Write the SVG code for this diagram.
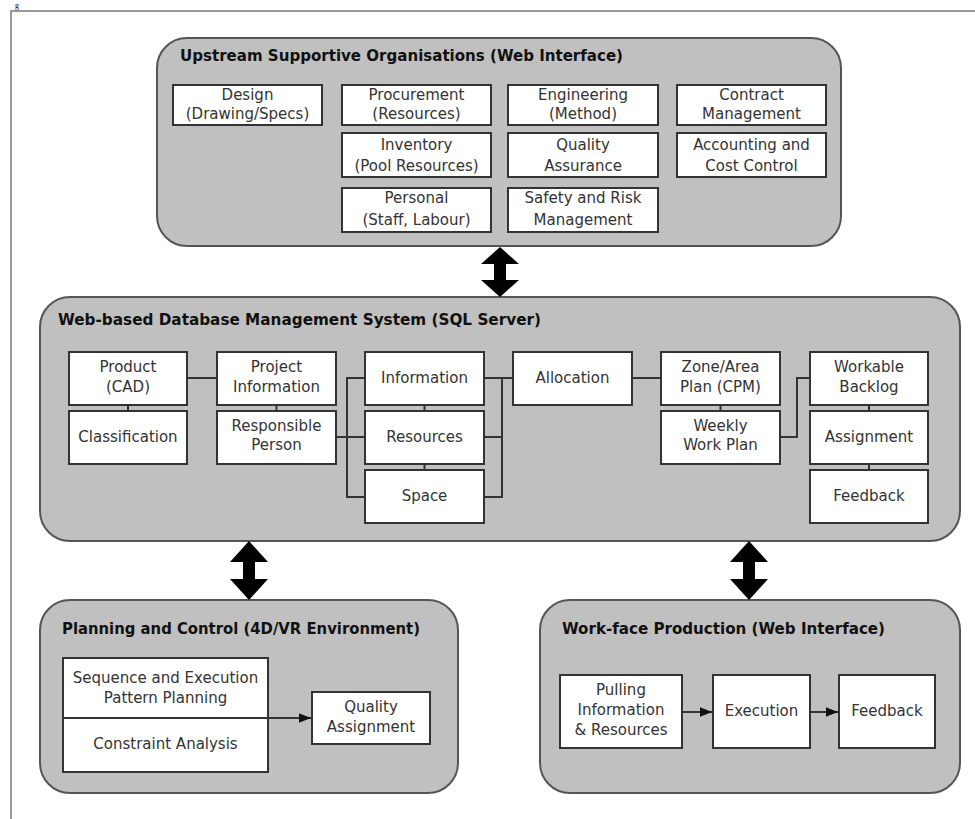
<svg xmlns="http://www.w3.org/2000/svg" width="975" height="819" viewBox="0 0 975 819">
<defs>
<style>
.frame{stroke:#999;stroke-width:2;fill:none}
.outer{fill:#c0c0c0;stroke:#555;stroke-width:2}
.box{fill:#fff;stroke:#333;stroke-width:2}
.ttl{font-family:"DejaVu Sans","Liberation Sans",sans-serif;font-weight:bold;font-size:15px;fill:#111}
.t{font-family:"DejaVu Sans","Liberation Sans",sans-serif;font-size:15px;fill:#333;text-anchor:middle}
.ln{stroke:#333;stroke-width:2;fill:none}
.big{fill:#000}
</style>
<marker id="ah" viewBox="0 0 10 10" refX="10" refY="5" markerWidth="6" markerHeight="6" orient="auto" markerUnits="strokeWidth">
<path d="M0,1 L10,5 L0,9 z" fill="#111"/>
</marker>
</defs>
<rect width="975" height="819" fill="#fff"/>
<text x="15" y="8" font-family="Liberation Serif, serif" font-size="8" fill="#000">g</text>
<path class="frame" d="M11,819 V11 H975"/>

<g id="upstream">
<rect class="outer" x="157" y="38" width="684" height="208" rx="30"/>
<text class="ttl" x="180" y="61" textLength="443" lengthAdjust="spacingAndGlyphs">Upstream Supportive Organisations (Web Interface)</text>
</g>
<g id="design"><rect class="box" x="173" y="85" width="149" height="40"/><text class="t" x="247.5" y="100">Design</text><text class="t" x="247.5" y="119">(Drawing/Specs)</text></g>
<g id="procurement"><rect class="box" x="342" y="85" width="149" height="40"/><text class="t" x="416.5" y="100">Procurement</text><text class="t" x="416.5" y="119">(Resources)</text></g>
<g id="engineering"><rect class="box" x="508" y="85" width="150" height="40"/><text class="t" x="583" y="100">Engineering</text><text class="t" x="583" y="119">(Method)</text></g>
<g id="contract"><rect class="box" x="677" y="85" width="149" height="40"/><text class="t" x="751.5" y="100">Contract</text><text class="t" x="751.5" y="119">Management</text></g>
<g id="inventory"><rect class="box" x="342" y="133" width="149" height="44"/><text class="t" x="416.5" y="150">Inventory</text><text class="t" x="416.5" y="171">(Pool Resources)</text></g>
<g id="quality-assurance"><rect class="box" x="508" y="133" width="150" height="44"/><text class="t" x="583" y="150">Quality</text><text class="t" x="583" y="171">Assurance</text></g>
<g id="accounting"><rect class="box" x="677" y="133" width="149" height="44"/><text class="t" x="751.5" y="150">Accounting and</text><text class="t" x="751.5" y="171">Cost Control</text></g>
<g id="personal"><rect class="box" x="342" y="188" width="149" height="44"/><text class="t" x="416.5" y="203">Personal</text><text class="t" x="416.5" y="225">(Staff, Labour)</text></g>
<g id="safety"><rect class="box" x="508" y="188" width="150" height="44"/><text class="t" x="583" y="203">Safety and Risk</text><text class="t" x="583" y="225">Management</text></g>

<g id="dbms">
<rect class="outer" x="40" y="297" width="920" height="244" rx="30"/>
<text class="ttl" x="58" y="325" textLength="483" lengthAdjust="spacingAndGlyphs">Web-based Database Management System (SQL Server)</text>
</g>
<g id="product"><rect class="box" x="69" y="352" width="118" height="53"/><text class="t" x="128" y="372">Product</text><text class="t" x="128" y="392">(CAD)</text></g>
<g id="classification"><rect class="box" x="69" y="411" width="118" height="53"/><text class="t" x="128" y="442">Classification</text></g>
<g id="project-info"><rect class="box" x="217" y="352" width="119" height="53"/><text class="t" x="276.5" y="372">Project</text><text class="t" x="276.5" y="392">Information</text></g>
<g id="responsible"><rect class="box" x="217" y="411" width="119" height="53"/><text class="t" x="276.5" y="431">Responsible</text><text class="t" x="276.5" y="450">Person</text></g>
<g id="information"><rect class="box" x="365" y="352" width="119" height="53"/><text class="t" x="424.5" y="383">Information</text></g>
<g id="resources"><rect class="box" x="365" y="411" width="119" height="53"/><text class="t" x="424.5" y="442">Resources</text></g>
<g id="space"><rect class="box" x="365" y="470" width="119" height="53"/><text class="t" x="424.5" y="501">Space</text></g>
<g id="allocation"><rect class="box" x="513" y="352" width="119" height="53"/><text class="t" x="572.5" y="383">Allocation</text></g>
<g id="zone"><rect class="box" x="661" y="352" width="119" height="53"/><text class="t" x="720.5" y="372">Zone/Area</text><text class="t" x="720.5" y="392">Plan (CPM)</text></g>
<g id="weekly"><rect class="box" x="661" y="411" width="119" height="53"/><text class="t" x="720.5" y="431">Weekly</text><text class="t" x="720.5" y="450">Work Plan</text></g>
<g id="backlog"><rect class="box" x="810" y="352" width="118" height="53"/><text class="t" x="869" y="372">Workable</text><text class="t" x="869" y="392">Backlog</text></g>
<g id="assignment"><rect class="box" x="810" y="411" width="118" height="53"/><text class="t" x="869" y="442">Assignment</text></g>
<g id="feedback-db"><rect class="box" x="810" y="470" width="118" height="53"/><text class="t" x="869" y="501">Feedback</text></g>

<g id="planning">
<rect class="outer" x="40" y="600" width="418" height="193" rx="30"/>
<text class="ttl" x="62" y="634" textLength="358" lengthAdjust="spacingAndGlyphs">Planning and Control (4D/VR Environment)</text>
</g>
<g id="sequence"><rect class="box" x="63" y="658" width="205" height="114"/><line class="ln" x1="63" y1="718" x2="268" y2="718"/><text class="t" x="165.5" y="683">Sequence and Execution</text><text class="t" x="165.5" y="703">Pattern Planning</text><text class="t" x="165.5" y="749">Constraint Analysis</text></g>
<g id="quality-assignment"><rect class="box" x="312" y="692" width="118" height="52"/><text class="t" x="371" y="712">Quality</text><text class="t" x="371" y="732">Assignment</text></g>

<g id="workface">
<rect class="outer" x="540" y="600" width="420" height="193" rx="30"/>
<text class="ttl" x="562" y="634" textLength="323" lengthAdjust="spacingAndGlyphs">Work-face Production (Web Interface)</text>
</g>
<g id="pulling"><rect class="box" x="560" y="675" width="122" height="73"/><text class="t" x="621" y="695">Pulling</text><text class="t" x="621" y="715">Information</text><text class="t" x="621" y="735">&amp; Resources</text></g>
<g id="execution"><rect class="box" x="713" y="675" width="97" height="73"/><text class="t" x="761.5" y="716">Execution</text></g>
<g id="feedback-wf"><rect class="box" x="839" y="675" width="96" height="73"/><text class="t" x="887" y="716">Feedback</text></g>

<g id="connectors">
<path class="ln" d="M187,378 H217"/>
<path class="ln" d="M128,405 V411"/>
<path class="ln" d="M276.5,405 V411"/>
<path class="ln" d="M336,437 H365"/>
<path class="ln" d="M365,378 H347 V497 H365"/>
<path class="ln" d="M424.5,405 V411 M424.5,464 V470"/>
<path class="ln" d="M484,378 H513"/>
<path class="ln" d="M484,437 H502 M484,497 H502 V378"/>
<path class="ln" d="M632,378 H661"/>
<path class="ln" d="M720.5,405 V411"/>
<path class="ln" d="M780,437 H797 V378 H810"/>
<path class="ln" d="M869,405 V411 M869,464 V470"/>
<path class="ln" d="M268,718 H311" marker-end="url(#ah)"/>
<path class="ln" d="M682,712 H712" marker-end="url(#ah)"/>
<path class="ln" d="M810,712 H838" marker-end="url(#ah)"/>
<polygon class="big" points="500,247 519,264 506,264 506,280 519,280 500,297 481,280 494,280 494,264 481,264"/>
<polygon class="big" points="249,541 268,562 255,562 255,579 268,579 249,600 230,579 243,579 243,562 230,562"/>
<polygon class="big" points="749,541 768,562 755,562 755,579 768,579 749,600 730,579 743,579 743,562 730,562"/>
</g>
</svg>
